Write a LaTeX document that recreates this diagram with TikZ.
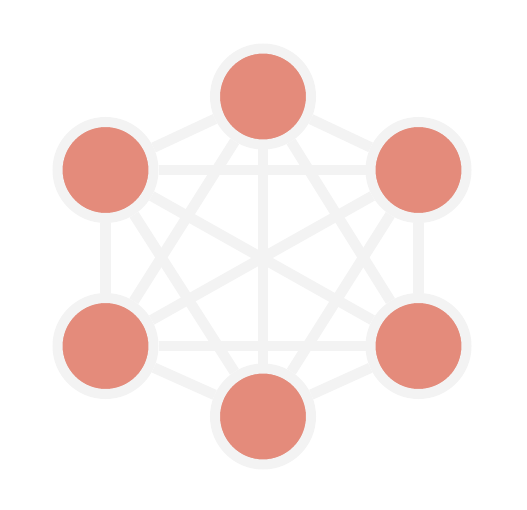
\documentclass[tikz,border=0pt]{standalone}
\definecolor{salmon}{HTML}{E48B7B}
\definecolor{ringgray}{HTML}{F3F3F3}
\begin{document}
\begin{tikzpicture}[x=1pt,y=-1pt,
  vert/.style={circle,fill=salmon,draw=ringgray,line width=10pt,minimum size=96pt,inner sep=0pt},
  edge/.style={draw=ringgray,line width=10.5pt}]
\useasboundingbox (0,0) rectangle (527,510);
\node[vert] (t) at (263,96.5) {};
\node[vert] (ul) at (105.5,170) {};
\node[vert] (ur) at (418.5,170) {};
\node[vert] (ll) at (105.5,346) {};
\node[vert] (lr) at (418.5,346) {};
\node[vert] (b) at (263,416.5) {};
\foreach \a/\c in {t/ul,t/ur,t/ll,t/lr,t/b,ul/ur,ul/ll,ul/lr,ul/b,ur/ll,ur/lr,ur/b,ll/lr,ll/b,lr/b}
  \draw[edge] (\a) -- (\c);
\end{tikzpicture}
\end{document}
